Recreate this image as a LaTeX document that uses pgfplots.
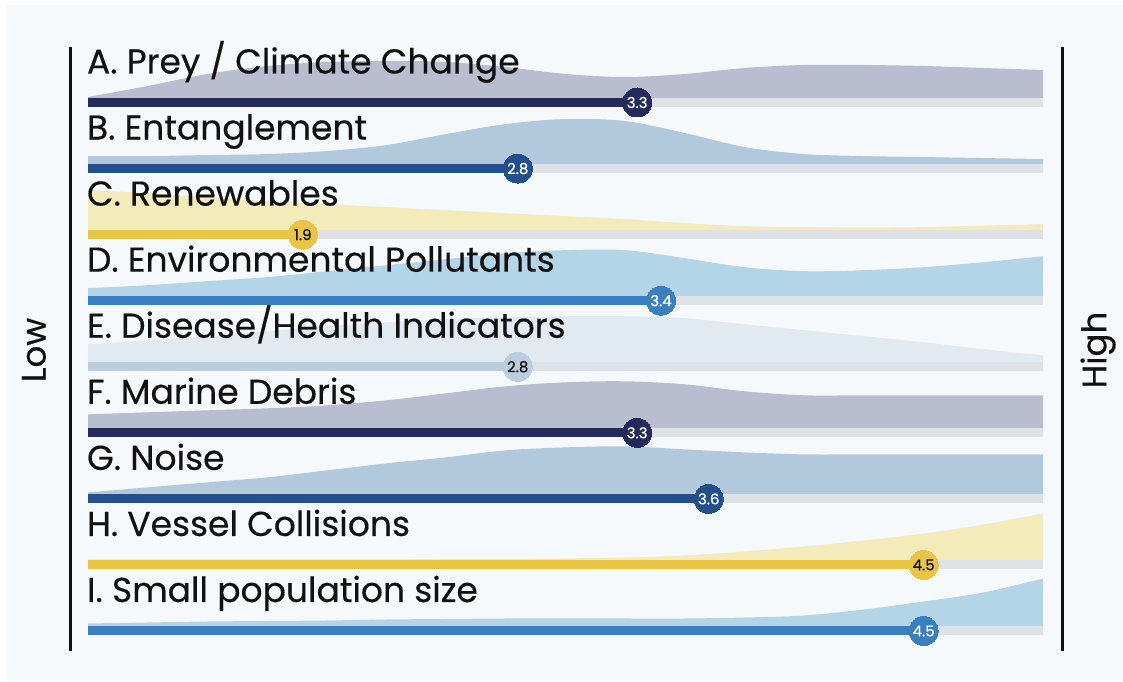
\documentclass[border=0pt]{standalone}
\usepackage{pgfplots}
\usepackage{pgfplotstable}
\pgfplotsset{compat=1.18}
\usepackage{fontspec}
\setmainfont{Poppins}
\newfontfamily\labfont{Poppins}[FakeBold=0.4]
\definecolor{bgc}{HTML}{F6F9FC}
\definecolor{strip}{HTML}{DEE1E5}
\definecolor{navy}{HTML}{242B5C}
\definecolor{navyS}{HTML}{B8BDD0}
\definecolor{mblue}{HTML}{23508C}
\definecolor{mblueS}{HTML}{B1C8DD}
\definecolor{yel}{HTML}{E8C544}
\definecolor{yelS}{HTML}{F4EBBA}
\definecolor{lblue}{HTML}{3A80C0}
\definecolor{lblueS}{HTML}{B4D5E8}
\definecolor{pale}{HTML}{BCCEDE}
\definecolor{paleS}{HTML}{E2EAF1}
\definecolor{ink}{HTML}{111111}

\pgfplotstableread{
v    A   B   C    D   E   F   G   H    I
1.00 1   8   40   8   18  14  2   1    3
1.25 12  8   37   11  22  16  7   1    4
1.50 24  9   33   15  26  18  12  1    5
1.75 32  10  29   19  31  20  17  1    5.5
2.00 36  13  26   25  36  23  24  1    6
2.25 37  19  23   31  40  28  31  1    7
2.50 36  30  20   37  43  35  37  1.5  7.5
2.75 31  40  17   43  45  42  44  1.5  8
3.00 24  45  14   46  46  46  47  2    8
3.25 21  43  11   46  46  47  48  3    8
3.50 24  31  7    38  44  44  45  5    8
3.75 30  17  4    29  38  37  42  9    9
4.00 33  10  3    25  32  33  40  14   11
4.25 33  8   2.5  26  26  33  40  20   17
4.50 32  7   3    29  20  33  40  27   25
4.75 30  6   4.5  34  13  33  40  36   34
5.00 28  5   6    40  7   33  40  47   48
}\shapes

\newcommand\rowshape[3]{%
  \addplot[fill=#3, draw=none, smooth, tension=0.55] table[x=v, y expr=\thisrow{#1}+#2+4.5] {\shapes}
    -- (axis cs:5,#2+4.5) -- (axis cs:1,#2+4.5) -- cycle;
}
\newcommand\rowbar[4]{% value, y, color, textcolor
  \addplot[draw=strip, line width=9bp] coordinates {(1,#2) (5,#2)};
  \addplot[draw=#3, line width=9bp] coordinates {(1,#2) (#1,#2)};
  \addplot[color=#3, only marks, mark=*, mark size=14.5bp, mark options={fill=#3, draw=#3, line width=0pt},
    point meta=x, nodes near coords, nodes near coords align=center,
    /pgf/number format/fixed, /pgf/number format/precision=1,
    /pgf/number format/fixed zerofill, /pgf/number format/assume math mode=true,
    every node near coord/.append style={font=\labfont\fontsize{15bp}{17bp}\selectfont, text=#4, inner sep=0pt}]
    coordinates {(#1,#2)};
}
\newcommand\rowlab[2]{%
  \node[anchor=base west, inner sep=0pt, font=\labfont\fontsize{34.5bp}{40bp}\selectfont, text=ink] at (axis cs:0.995,#1+29) {#2};
}

\begin{document}
\begin{tikzpicture}
\begin{axis}[
  scale only axis, width=1123bp, height=681bp,
  xmin=0.63141, xmax=5.33508, ymin=0, ymax=681,
  hide axis, clip=false,
]
\fill[white] (axis cs:0.63141,0) rectangle (axis cs:5.33508,681);
\fill[bgc] (axis cs:0.66073,0) rectangle (axis cs:5.33508,676);

\rowshape{A}{578.5}{navyS}
\rowshape{B}{512.44}{mblueS}
\rowshape{C}{446.38}{yelS}
\rowshape{D}{380.32}{lblueS}
\rowshape{E}{314.26}{paleS}
\rowshape{F}{248.2}{navyS}
\rowshape{G}{182.14}{mblueS}
\rowshape{H}{116.08}{yelS}
\rowshape{I}{50.02}{lblueS}

\rowbar{3.3}{578.5}{navy}{white}
\rowbar{2.8}{512.44}{mblue}{white}
\rowbar{1.9}{446.38}{yel}{ink}
\rowbar{3.4}{380.32}{lblue}{white}
\rowbar{2.8}{314.26}{pale}{ink}
\rowbar{3.3}{248.2}{navy}{white}
\rowbar{3.6}{182.14}{mblue}{white}
\rowbar{4.5}{116.08}{yel}{ink}
\rowbar{4.5}{50.02}{lblue}{white}

\rowlab{578.5}{A. Prey / Climate Change}
\rowlab{512.44}{B. Entanglement}
\rowlab{446.38}{C. Renewables}
\rowlab{380.32}{D. Environmental Pollutants}
\rowlab{314.26}{E. Disease/Health Indicators}
\rowlab{248.2}{F. Marine Debris}
\rowlab{182.14}{G. Noise}
\rowlab{116.08}{H. Vessel Collisions}
\rowlab{50.02}{I. Small population size}

\draw[line width=3bp, ink] (axis cs:0.9267,634) -- (axis cs:0.9267,30);
\draw[line width=3bp, ink] (axis cs:5.0796,634) -- (axis cs:5.0796,30);
\node[rotate=90, font=\labfont\fontsize{34bp}{40bp}\selectfont, text=ink] at (axis cs:0.7738,331) {Low};
\node[rotate=90, font=\labfont\fontsize{34bp}{40bp}\selectfont, text=ink] at (axis cs:5.2304,331) {High};
\end{axis}
\end{tikzpicture}
\end{document}
